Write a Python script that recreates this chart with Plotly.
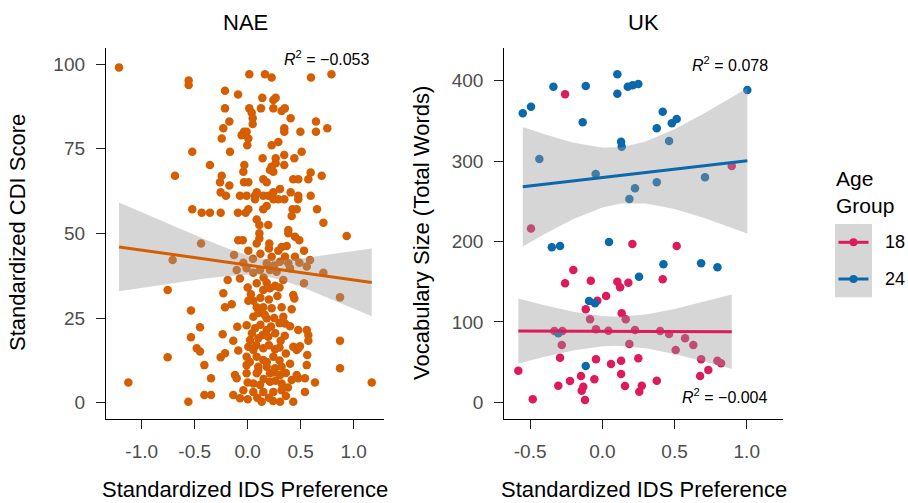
import plotly.graph_objects as go

# ---------------- DATA ----------------
# NAE panel: Standardized IDS Preference (x) vs Standardized CDI Score (y)
nae_x = [
    -1.214, 0.015, 0.163, 0.226, 0.597, 0.790, -0.557, -0.557, -0.214, -0.091,
    0.138, 0.242, 0.264, -0.214, 0.015, 0.038, 0.125, 0.242, 0.320, 0.350,
    0.405, 0.047, 0.047, -0.173, -0.230, -0.035, -0.057, -0.010, 0.345, 0.345,
    0.497, 0.644, 0.644, 0.751, -0.245, 0.006, -0.004, 0.289, 0.226, -0.523,
    -0.167, 0.509, 0.345, 0.141, 0.264, 0.264, 0.440, -0.356, -0.032, -0.041,
    0.226, 0.242, 0.210, 0.345, -0.686, -0.245, -0.261, -0.173, -0.035, 0.006,
    0.147, 0.179, 0.430, 0.477, 0.594, 0.572, 0.698, -0.255, -0.205, -0.073,
    -0.010, 0.069, 0.085, 0.147, 0.194, 0.242, 0.305, 0.242, 0.289, 0.345,
    0.405, 0.477, 0.477, 0.594, 0.069, -0.523, -0.434, -0.356, -0.255, -0.092,
    -0.019, 0.006, 0.147, 0.179, 0.424, 0.415, 0.462, 0.654, 0.085, 0.110,
    0.194, 0.714, 0.383, 0.110, 0.110, 0.383, 0.446, 0.487, 0.934, -0.089,
    -0.047, 0.085, 0.204, -0.440, 0.320, 0.368, 0.006, 0.289, 0.531, -0.129,
    0.226, 0.352, 0.446, -0.708, 0.588, -0.041, 0.179, 0.305, 0.383, 0.487,
    -0.104, -0.010, 0.053, 0.116, 0.210, 0.273, 0.399, 0.557, 0.714, -0.189,
    -0.073, 0.085, 0.179, 0.336, 0.531, -0.755, 0.147, 0.210, 0.258, -0.230,
    0.430, 0.440, 0.871, 0.006, 0.053, -0.214, -0.151, -0.535, 0.085, 0.147,
    0.226, 0.320, 0.415, 0.053, 0.179, 0.336, 0.352, -0.450, -0.098, -0.010,
    0.069, 0.179, 0.399, 0.477, 0.557, -0.535, -0.236, -0.136, 0.022, 0.100,
    0.194, 0.311, 0.430, 0.493, 0.572, 0.572, 0.871, -0.481, -0.450, -0.089,
    0.006, 0.053, 0.147, 0.258, 0.462, 0.477, -0.755, -0.255, -0.214, -0.010,
    0.085, 0.147, 0.242, 0.562, -0.409, -0.010, 0.100, 0.179, 0.258, 0.320,
    0.557, 0.871, -0.010, 0.085, 0.210, 0.305, -0.120, -0.104, -0.346, 0.462,
    0.477, 0.540, 0.635, -1.126, 1.170, 0.053, 0.116, 0.210, 0.320, 0.415,
    -0.041, 0.053, 0.147, 0.242, 0.320, 0.540, -0.409, -0.346, -0.136, -0.073,
    -0.560, 0.132, 0.305, 0.430, 0.030, 0.120, 0.200, 0.280, 0.100, 0.160,
    0.250, 0.300, 0.120, 0.220, 0.040, 0.140, 0.260, 0.350, 0.080, 0.200,
    0.300, 0.360, 0.020, 0.180, 0.300, 0.400, 0.100, 0.250, 0.360, 0.000,
    0.150, 0.260, 0.380, 0.200, 0.000, 0.090, 0.240, 0.360, 0.120, 0.200,
    0.050, 0.250, 0.150, 0.300, 0.000,
]
nae_y = [
    99.0, 97.0, 97.0, 96.0, 96.0, 97.0, 95.1, 93.8, 92.1, 91.0,
    90.0, 89.4, 90.0, 86.9, 86.9, 85.6, 86.9, 86.9, 86.1, 86.9,
    84.0, 84.0, 82.3, 83.0, 81.0, 80.0, 79.0, 80.0, 81.0, 80.0,
    80.0, 83.0, 80.0, 81.0, 78.0, 78.0, 76.0, 77.0, 76.0, 74.1,
    74.1, 74.1, 73.1, 72.2, 72.2, 70.7, 72.2, 70.2, 70.2, 68.2,
    69.7, 68.2, 68.7, 70.2, 67.0, 67.0, 65.1, 64.1, 65.1, 65.1,
    66.0, 65.1, 66.0, 66.0, 68.0, 66.0, 67.0, 62.1, 61.1, 61.1,
    61.1, 61.1, 62.1, 61.1, 61.1, 62.1, 63.1, 60.1, 60.1, 60.1,
    62.1, 61.1, 60.1, 61.1, 60.1, 57.1, 56.1, 56.1, 56.1, 56.1,
    56.1, 57.1, 57.1, 58.1, 57.1, 55.1, 57.1, 57.1, 54.1, 52.5,
    52.5, 53.1, 51.0, 50.0, 48.5, 50.0, 49.0, 48.0, 49.2, 48.0,
    48.0, 47.0, 47.0, 47.0, 46.0, 46.3, 44.9, 44.9, 44.9, 43.6,
    43.1, 43.1, 43.1, 42.1, 42.1, 41.3, 41.2, 41.6, 41.2, 41.3,
    39.2, 39.7, 38.4, 39.2, 39.2, 38.7, 39.7, 40.2, 38.4, 36.2,
    36.7, 35.3, 35.4, 36.2, 35.3, 33.3, 33.3, 33.8, 34.5, 32.3,
    31.8, 30.8, 31.1, 30.1, 30.1, 28.2, 29.1, 27.2, 28.2, 28.2,
    27.9, 28.2, 27.6, 25.4, 24.9, 25.4, 23.4, 22.3, 22.4, 22.9,
    22.0, 21.5, 22.6, 21.5, 21.5, 19.3, 20.2, 18.3, 18.5, 19.0,
    19.5, 18.3, 16.5, 16.7, 20.0, 18.3, 18.3, 16.1, 15.1, 15.4,
    16.5, 15.6, 16.1, 15.8, 15.6, 16.1, 13.4, 13.4, 14.6, 13.6,
    13.6, 12.6, 13.6, 14.1, 11.1, 11.1, 10.6, 10.6, 10.2, 10.6,
    11.1, 10.2, 8.7, 8.7, 8.7, 8.2, 8.2, 7.2, 7.2, 8.2,
    7.2, 7.2, 6.0, 6.0, 6.0, 5.7, 5.2, 6.2, 5.7, 6.7,
    3.7, 3.2, 3.2, 3.2, 3.7, 3.2, 2.3, 2.3, 2.3, 1.3,
    0.3, 0.3, 0.3, 0.3, 32.0, 31.0, 30.5, 31.5, 26.5, 26.0,
    25.0, 23.5, 23.0, 22.5, 20.5, 20.0, 20.5, 19.8, 17.0, 17.0,
    16.3, 14.5, 12.0, 12.0, 12.5, 11.5, 9.5, 9.0, 8.8, 6.0,
    7.0, 6.5, 4.5, 1.5, 1.0, 1.5, 0.5, 2.0, 44.0, 45.5,
    42.5, 40.5, 37.0, 34.0, 34.0,
]

# NAE linear fit and 95% band
nae_fit_x = [-1.214, -1.0, -0.8, -0.6, -0.4, -0.2, 0.0, 0.146, 0.3, 0.5, 0.7, 0.9, 1.17]
nae_fit_y = [46.0, 45.05, 44.17, 43.29, 42.41, 41.53, 40.65, 40.01, 39.33, 38.45, 37.57, 36.69, 35.5]
nae_upper = [59.1, 56.2, 53.5, 50.8, 48.2, 45.7, 43.5, 42.5, 42.2, 42.6, 43.4, 44.3, 45.5]
nae_lower = [32.9, 33.9, 34.9, 35.8, 36.7, 37.4, 37.8, 37.5, 36.4, 34.3, 31.8, 29.1, 25.5]

# UK panel: Age group 18 months
uk18_x = [
    -0.258, 0.896, -0.494, 0.208, 0.515, -0.201, -0.258, -0.080, 0.104, 0.123,
    0.180, 0.418, -0.035, 0.026, -0.115, 0.134, -0.085, 0.162, -0.332, -0.277,
    -0.044, 0.042, 0.226, 0.400, 0.462, -0.281, 0.187, 0.573, 0.630, 0.508,
    -0.293, -0.044, 0.060, 0.130, 0.249, 0.684, 0.797, 0.822, -0.582, 0.734,
    -0.148, -0.055, 0.130, 0.677, -0.224, -0.305, -0.132, -0.143, 0.157, 0.273,
    0.256, 0.377, -0.482, -0.120,
]
uk18_y = [
    382.9, 293.8, 216.0, 196.9, 194.4, 164.6, 148.1, 151.3, 150.1, 143.1,
    148.8, 153.0, 126.5, 132.3, 115.8, 110.8, 103.4, 103.4, 88.8, 88.8,
    90.9, 89.2, 90.1, 88.8, 85.1, 71.4, 72.7, 79.8, 71.4, 65.2,
    55.7, 53.7, 47.8, 51.9, 54.9, 53.7, 51.9, 48.7, 39.5, 40.4,
    32.9, 28.8, 35.4, 32.9, 26.7, 20.9, 19.6, 14.7, 20.5, 20.9,
    13.4, 27.1, 4.0, 3.1,
]
# UK panel: Age group 24 months
uk24_x = [
    -0.551, -0.494, -0.339, -0.115, 0.104, 0.104, 0.176, 0.210, 0.249, -0.136,
    0.418, 0.377, 0.481, 0.515, 1.004, 0.130, 0.134, 0.462, -0.436, -0.046,
    0.226, 0.187, 0.377, 0.711, -0.350, -0.293, 0.046, 0.423, 0.684, 0.797,
    0.254, -0.092, -0.051, -0.305, -0.115,
]
uk24_y = [
    359.3, 367.5, 392.3, 393.2, 407.7, 383.6, 392.3, 394.0, 395.7, 348.1,
    361.2, 340.6, 346.8, 352.2, 388.2, 324.0, 317.8, 324.8, 302.5, 283.9,
    266.1, 252.8, 273.5, 279.8, 192.8, 194.4, 199.4, 171.7, 172.9, 168.0,
    156.3, 126.1, 123.2, 86.0, 45.3,
]

# UK fits and 95% bands
uk18_fit_x = [-0.582, -0.4, -0.2, 0.0, 0.099, 0.3, 0.5, 0.7, 0.896]
uk18_fit_y = [88.8, 88.7, 88.6, 88.5, 88.4, 88.3, 88.2, 88.1, 88.0]
uk18_upper = [129.2, 120.7, 112.6, 107.3, 106.4, 109.2, 116.1, 124.7, 134.0]
uk18_lower = [48.4, 56.7, 64.6, 69.8, 70.4, 67.4, 60.3, 51.5, 42.0]

uk24_fit_x = [-0.551, -0.4, -0.2, 0.0, 0.133, 0.3, 0.5, 0.7, 0.85, 1.004]
uk24_fit_y = [268.1, 271.2, 275.3, 279.5, 282.2, 285.7, 289.9, 294.1, 297.2, 300.4]
uk24_upper = [342.3, 333.1, 322.6, 316.7, 317.2, 324.2, 339.5, 358.7, 374.2, 390.8]
uk24_lower = [193.9, 209.3, 228.0, 242.3, 247.2, 247.2, 240.3, 229.5, 220.2, 210.0]

# Tick labels
nae_xticks = [-1.0, -0.5, 0.0, 0.5, 1.0]
nae_xticklabels = ["-1.0", "-0.5", "0.0", "0.5", "1.0"]
nae_yticks = [0, 25, 50, 75, 100]
uk_xticks = [-0.5, 0.0, 0.5, 1.0]
uk_xticklabels = ["-0.5", "0.0", "0.5", "1.0"]
uk_yticks = [0, 100, 200, 300, 400]

panel_titles = ["NAE", "UK"]
r2_labels = ["\u22120.053", "0.078", "\u22120.004"]
age_groups = ["18", "24"]

# ---------------- STYLE ----------------
W, H = 908, 503
FONT = "Liberation Sans, Arial, Helvetica, sans-serif"
ORANGE = "#D55E00"
PINK = "#DC1A5C"
BLUE = "#0A69AC"
RIBBON = "rgba(153,153,153,0.4)"
TICKGREY = "#4D4D4D"

def px(x):
    return x / W

def py(y):
    return 1 - y / H

fig = go.Figure()

def band(xs, up, lo, xa, ya):
    return go.Scatter(
        x=list(xs) + list(xs)[::-1], y=list(up) + list(lo)[::-1],
        fill="toself", fillcolor=RIBBON, line=dict(width=0),
        mode="lines", hoverinfo="skip", showlegend=False, xaxis=xa, yaxis=ya)

# NAE
fig.add_trace(go.Scatter(x=nae_x, y=nae_y, mode="markers",
                         marker=dict(color=ORANGE, size=8.5, line=dict(width=0)),
                         showlegend=False, xaxis="x", yaxis="y"))
fig.add_trace(band(nae_fit_x, nae_upper, nae_lower, "x", "y"))
fig.add_trace(go.Scatter(x=nae_fit_x, y=nae_fit_y, mode="lines",
                         line=dict(color=ORANGE, width=3),
                         showlegend=False, xaxis="x", yaxis="y"))

# UK points
fig.add_trace(go.Scatter(x=uk18_x, y=uk18_y, mode="markers",
                         marker=dict(color=PINK, size=8.5, line=dict(width=0)),
                         showlegend=False, xaxis="x2", yaxis="y2"))
fig.add_trace(go.Scatter(x=uk24_x, y=uk24_y, mode="markers",
                         marker=dict(color=BLUE, size=8.5, line=dict(width=0)),
                         showlegend=False, xaxis="x2", yaxis="y2"))
# UK smooths
fig.add_trace(band(uk18_fit_x, uk18_upper, uk18_lower, "x2", "y2"))
fig.add_trace(go.Scatter(x=uk18_fit_x, y=uk18_fit_y, mode="lines",
                         line=dict(color=PINK, width=3),
                         showlegend=False, xaxis="x2", yaxis="y2"))
fig.add_trace(band(uk24_fit_x, uk24_upper, uk24_lower, "x2", "y2"))
fig.add_trace(go.Scatter(x=uk24_fit_x, y=uk24_fit_y, mode="lines",
                         line=dict(color=BLUE, width=3),
                         showlegend=False, xaxis="x2", yaxis="y2"))

axis_common = dict(
    showgrid=False, zeroline=False, showline=True, linecolor="black", linewidth=1.3,
    ticks="outside", ticklen=9, tickwidth=1.3, tickcolor="#222222",
    tickfont=dict(family=FONT, size=19, color=TICKGREY), automargin=False,
)

ydom = [py(418.5), py(47.5)]
fig.update_layout(
    width=W, height=H,
    margin=dict(l=0, r=0, t=0, b=0),
    paper_bgcolor="white", plot_bgcolor="white",
    font=dict(family=FONT, color="black"),
    xaxis=dict(domain=[px(106), px(384)], range=[-1.3368, 1.2858],
               tickvals=nae_xticks, ticktext=nae_xticklabels,
               ticklabelstandoff=7, anchor="y", **axis_common),
    yaxis=dict(domain=ydom, range=[-4.66, 104.87], tickvals=nae_yticks,
               ticklabelstandoff=7, anchor="x", **axis_common),
    xaxis2=dict(domain=[px(504.3), px(782.7)], range=[-0.679, 1.249],
                tickvals=uk_xticks, ticktext=uk_xticklabels,
                ticklabelstandoff=7, anchor="y2", **axis_common),
    yaxis2=dict(domain=ydom, range=[-19.9, 441.0], tickvals=uk_yticks,
                ticklabelstandoff=7, anchor="x2", **axis_common),
    showlegend=False,
)

ann = []
# Panel titles
ann.append(dict(text=panel_titles[0], x=px(245), y=py(22), xref="paper", yref="paper",
                showarrow=False, font=dict(size=22, color="black"), xanchor="center", yanchor="middle"))
ann.append(dict(text=panel_titles[1], x=px(643.5), y=py(22), xref="paper", yref="paper",
                showarrow=False, font=dict(size=22, color="black"), xanchor="center", yanchor="middle"))
# Axis titles
ann.append(dict(text="Standardized IDS Preference", x=px(245), y=py(489.5), xref="paper", yref="paper",
                showarrow=False, font=dict(size=22, color="black"), xanchor="center", yanchor="middle"))
ann.append(dict(text="Standardized IDS Preference", x=px(643.5), y=py(489.5), xref="paper", yref="paper",
                showarrow=False, font=dict(size=22, color="black"), xanchor="center", yanchor="middle"))
ann.append(dict(text="Standardized CDI Score", x=px(17), y=py(233), xref="paper", yref="paper",
                showarrow=False, textangle=-90, font=dict(size=22, color="black"),
                xanchor="center", yanchor="middle"))
ann.append(dict(text="Vocabulary Size (Total Words)", x=px(421), y=py(233), xref="paper", yref="paper",
                showarrow=False, textangle=-90, font=dict(size=22, color="black"),
                xanchor="center", yanchor="middle"))
# R^2 labels (data coordinates)
ann.append(dict(text="<i>R</i><sup>2</sup> = " + r2_labels[0], x=1.173, y=101.8, xref="x", yref="y",
                showarrow=False, font=dict(size=16, color="black"), xanchor="right", yanchor="middle"))
ann.append(dict(text="<i>R</i><sup>2</sup> = " + r2_labels[1], x=1.161, y=420.5, xref="x2", yref="y2",
                showarrow=False, font=dict(size=16, color="black"), xanchor="right", yanchor="middle"))
ann.append(dict(text="<i>R</i><sup>2</sup> = " + r2_labels[2], x=1.161, y=8.1, xref="x2", yref="y2",
                showarrow=False, font=dict(size=16, color="black"), xanchor="right", yanchor="middle"))
# Legend (drawn manually in ggplot style)
ann.append(dict(text="Age<br>Group", x=px(834), y=py(191.5), xref="paper", yref="paper", showarrow=False,
                font=dict(size=21, color="black"), xanchor="left", yanchor="middle", align="left"))
key_y = [242.3, 279.0]
key_cols = [PINK, BLUE]
shapes = [dict(type="rect", xref="paper", yref="paper", x0=px(835), x1=px(872),
               y0=py(297.3), y1=py(224), fillcolor="#D6D6D6", line=dict(width=0), layer="above")]
for lab, ky, col in zip(age_groups, key_y, key_cols):
    ann.append(dict(text=lab, x=px(883), y=py(ky), xref="paper", yref="paper", showarrow=False,
                    font=dict(size=18, color="black"), xanchor="left", yanchor="middle"))
    shapes.append(dict(type="line", xref="paper", yref="paper", x0=px(838.5), x1=px(868.5),
                       y0=py(ky), y1=py(ky), line=dict(color=col, width=3), layer="above"))
    shapes.append(dict(type="circle", xref="paper", yref="paper", x0=px(853.5 - 4), x1=px(853.5 + 4),
                       y0=py(ky + 4), y1=py(ky - 4), fillcolor=col, line=dict(width=0), layer="above"))

fig.update_layout(annotations=ann, shapes=shapes)
fig.write_html("out.html", config={"displayModeBar": False},
               post_script="document.body.style.margin='0';document.body.style.padding='0';"
                           "document.body.style.overflow='hidden';")
